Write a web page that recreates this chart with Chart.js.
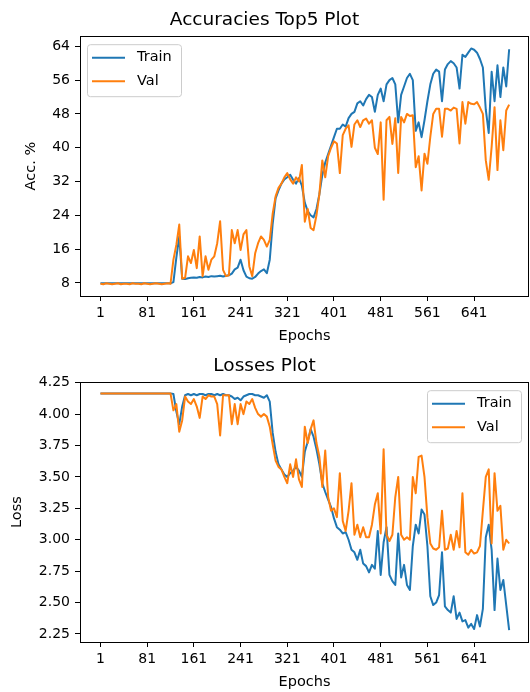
<!DOCTYPE html>
<html>
<head>
<meta charset="utf-8">
<script src="https://cdn.jsdelivr.net/npm/chart.js@4.4.0/dist/chart.umd.min.js"></script>
<style>
  html, body { margin: 0; padding: 0; background: #fff; overflow: hidden; }
  .panel { position: absolute; left: 0; width: 530px; height: 346px; }
  #accPanel { top: 0; }
  #lossPanel { top: 346px; }
</style>
</head>
<body>
<div class="panel" id="accPanel"><canvas id="accChart"></canvas></div>
<div class="panel" id="lossPanel"><canvas id="lossChart"></canvas></div>
<script>
// -------------------- Data (one value every 5 epochs) --------------------
const epochs = [];
for (let e = 1; e <= 701; e += 5) epochs.push(e);

const xTicks = [1, 81, 161, 241, 321, 401, 481, 561, 641];
const accTicks = [8, 16, 24, 32, 40, 48, 56, 64];
const lossTicks = [2.25, 2.5, 2.75, 3.0, 3.25, 3.5, 3.75, 4.0, 4.25];

const trainAcc = [
  7.9, 7.9, 7.9, 7.9, 7.9, 7.9, 7.9, 7.9, 7.9, 7.9,
  7.9, 7.9, 7.9, 7.9, 7.9, 7.9, 7.9, 7.9, 7.9, 7.9,
  7.9, 7.9, 7.9, 7.9, 7.9, 8.2, 14, 19, 9, 8.9,
  9.1, 9.2, 9.3, 9.2, 9.4, 9.3, 9.5, 9.4, 9.6, 9.5,
  9.6, 9.7, 9.5, 9.7, 9.8, 10.2, 11.2, 11.6, 13.5, 11.0,
  9.5, 9.1, 9.0, 9.4, 10.2, 10.8, 11.2, 10.3, 13.5, 22.0,
  28.0, 29.9, 31.5, 32.5, 33.0, 33.6, 32.4, 31.5, 32.8, 31.0,
  27, 25, 24, 23.5, 25.5, 29, 33.5, 36.5, 38.5, 40.5,
  42.5, 44.5, 44.5, 45.5, 45, 47, 48, 48.5, 50.5, 51,
  50, 51.5, 52.5, 52, 48.5, 52.5, 54, 51, 55, 56,
  56.5, 55, 46, 52.5, 54.5, 56.5, 57.5, 56, 44, 46,
  42.5, 46.5, 51, 55, 57.5, 58.5, 58, 51, 58.5, 59.8,
  60.5, 60, 59, 54, 62, 61.5, 62.5, 63.5, 63.2, 62.5,
  61, 59, 49, 43.5, 58, 51, 59.5, 52, 59, 54.5,
  63.3
];

const valAcc = [
  7.8, 7.7, 7.9, 7.8, 7.7, 7.8, 7.9, 7.7, 7.8, 7.8,
  7.7, 7.9, 7.8, 7.8, 7.7, 7.9, 7.8, 7.7, 7.8, 7.9,
  7.8, 7.7, 7.8, 7.9, 7.8, 13.5, 17, 21.8, 9.0, 9.2,
  14.3, 12.7, 15.8, 11.5, 19.0, 9.6, 14.3, 11.1, 13.5, 14.3,
  17.4, 22.6, 11.1, 9.6, 9.8, 20.5, 17.4, 20.5, 15.8, 19.5,
  20.5, 11.9, 9.6, 15, 17.4, 19, 18.2, 16.6, 18.2, 24.4,
  28.5, 30.5, 31.5, 33, 34, 32.5, 31.5, 33, 32, 35.9,
  22.5, 25.5, 21, 20.5, 24, 29, 37, 33, 38, 40,
  41.5, 41, 34, 43, 44.5, 45.3, 40.2, 45.5, 46.5, 44.9,
  46.5, 46.9, 45.7, 46.5, 40, 38.5, 46, 27.7, 46.5, 47.3,
  40.9, 47, 34, 47.3, 46, 48, 47.5, 47.7, 35.4, 38,
  29.9, 38.6, 36.2, 42.6, 48, 49.2, 49.2, 42.6, 49.2, 49.2,
  48.8, 49.5, 49.2, 41, 50.8, 45.7, 50.8, 50.4, 50.3, 50.8,
  49.5, 48, 37, 32.4, 40.2, 49.6, 34.7, 46.5, 39.4, 48.8,
  50.2
];

const trainLoss = [
  4.165, 4.165, 4.165, 4.165, 4.165, 4.165, 4.165, 4.165, 4.165, 4.165,
  4.165, 4.165, 4.165, 4.165, 4.165, 4.165, 4.165, 4.165, 4.165, 4.165,
  4.165, 4.165, 4.165, 4.165, 4.165, 4.16, 4.02, 3.92, 4.06, 4.15,
  4.16, 4.15, 4.16, 4.15, 4.16, 4.16, 4.15, 4.16, 4.16, 4.15,
  4.16, 4.15, 4.16, 4.15, 4.15, 4.14, 4.12, 4.13, 4.11, 4.14,
  4.15, 4.16, 4.16, 4.15, 4.15, 4.14, 4.13, 4.15, 4.10, 3.85,
  3.70, 3.60, 3.56, 3.52, 3.50, 3.53, 3.55, 3.58, 3.55, 3.50,
  3.70, 3.78, 3.88, 3.82, 3.72, 3.60, 3.45, 3.38, 3.32, 3.26,
  3.17, 3.10, 3.08, 3.05, 3.06, 3.00, 2.92, 2.90, 2.84, 2.92,
  2.81, 2.79, 2.74, 2.80, 2.77, 3.07, 2.72, 2.98, 3.10, 2.72,
  2.67, 2.64, 3.05, 2.70, 2.80, 2.64, 2.60, 2.95, 3.12, 3.05,
  3.24, 3.20, 2.95, 2.55, 2.48, 2.50, 2.56, 2.90, 2.47, 2.44,
  2.42, 2.55, 2.37, 2.42, 2.35, 2.36, 2.30, 2.33, 2.29, 2.40,
  2.31, 2.45, 3.02, 3.12, 2.92, 2.44, 2.85, 2.60, 2.68, 2.48,
  2.28
];

const valLoss = [
  4.165, 4.165, 4.165, 4.165, 4.165, 4.165, 4.165, 4.165, 4.165, 4.165,
  4.165, 4.165, 4.165, 4.165, 4.165, 4.165, 4.165, 4.165, 4.165, 4.165,
  4.165, 4.165, 4.165, 4.165, 4.165, 4.03, 4.08, 3.86, 3.95, 4.14,
  4.10, 4.08, 4.12, 4.06, 3.97, 4.14, 4.12, 4.15, 4.14, 4.14,
  4.08, 3.83, 4.15, 4.15, 4.15, 3.92, 4.08, 3.92, 4.08, 4.00,
  4.10, 4.08, 4.12, 4.05, 4.00, 3.98, 4.00, 3.98, 3.90, 3.76,
  3.63, 3.58, 3.56, 3.50, 3.45, 3.60, 3.50, 3.64, 3.48, 3.42,
  3.90, 3.77, 3.88, 3.95, 3.77, 3.66, 3.42, 3.71, 3.34, 3.23,
  3.25, 3.18, 3.53, 3.15, 3.07, 3.23, 3.45, 3.04, 3.12, 3.02,
  3.10, 3.02, 3.02, 3.12, 3.28, 3.37, 3.05, 3.72, 3.04, 2.99,
  3.04, 3.34, 3.50, 3.04, 3.00, 3.02, 3.00, 3.50, 3.37, 3.66,
  3.67, 3.50, 3.18, 2.97, 2.93, 2.92, 2.94, 3.23, 2.92, 2.93,
  3.04, 2.92, 3.07, 2.94, 3.37, 2.90, 2.88, 2.92, 2.89, 2.90,
  2.95, 3.23, 3.50, 3.56, 2.97, 3.53, 3.23, 3.27, 2.92, 3.00,
  2.97
];

const BLUE = "#1f77b4";
const ORANGE = "#ff7f0e";
const FONT = "'DejaVu Sans', sans-serif";


// -------------------- Frame (all four spines) --------------------
const frame = {
  id: "frame",
  afterDatasetsDraw(chart) {
    const { ctx, chartArea: a } = chart;
    ctx.save();
    ctx.strokeStyle = "#000";
    ctx.lineWidth = 1;
    ctx.strokeRect(Math.round(a.left) + 0.5, Math.round(a.top) + 0.5,
      Math.round(a.right - a.left) - 1, Math.round(a.bottom - a.top));
    ctx.restore();
  }
};


// -------------------- Matplotlib-like legend box --------------------
const boxLegend = {
  id: "boxLegend",
  afterDraw(chart, args, opts) {
    const { ctx, chartArea: a } = chart;
    const w = 94, h = 52;
    const x = opts.side === "right" ? a.right - 8 - w : a.left + 7;
    const y = a.top + 8;
    ctx.save();
    ctx.fillStyle = "rgba(255,255,255,0.8)";
    ctx.strokeStyle = "#cccccc";
    ctx.lineWidth = 1;
    ctx.beginPath();
    ctx.roundRect(x + 0.5, y + 0.5, w, h, 3);
    ctx.fill();
    ctx.stroke();
    ctx.font = "14.5px " + FONT;
    ctx.textBaseline = "middle";
    chart.data.datasets.forEach((ds, i) => {
      const ry = y + 13.5 + i * 23.5;
      ctx.strokeStyle = ds.borderColor;
      ctx.lineWidth = 2;
      ctx.beginPath();
      ctx.moveTo(x + 5, ry);
      ctx.lineTo(x + 38, ry);
      ctx.stroke();
      ctx.fillStyle = "#000";
      ctx.fillText(ds.label, x + 50, ry);
    });
    ctx.restore();
  }
};


// -------------------- Build one panel --------------------
function makeChart(id, title, yLabel, train, val, yMin, yMax, yTicks, fmt, side, yTitlePad) {
  const ctx = document.getElementById(id).getContext("2d");
  return new Chart(ctx, {
    type: "line",
    data: {
      datasets: [
        { label: "Train", data: epochs.map((e, i) => ({ x: e, y: train[i] })),
          borderColor: BLUE, borderWidth: 2, pointRadius: 0, tension: 0, order: 1,
          borderJoinStyle: "round" },
        { label: "Val", data: epochs.map((e, i) => ({ x: e, y: val[i] })),
          borderColor: ORANGE, borderWidth: 2, pointRadius: 0, tension: 0, order: 0,
          borderJoinStyle: "round" }
      ]
    },
    options: {
      responsive: true,
      maintainAspectRatio: false,
      animation: false,
      layout: { padding: { left: 0, right: 1, top: 0, bottom: 0 } },
      plugins: {
        legend: { display: false },
        tooltip: { enabled: false },
        title: {
          display: true,
          text: title,
          color: "#000",
          font: { family: FONT, size: 18.5, weight: "normal" },
          padding: { top: 9, bottom: 5 }
        },
        boxLegend: { side: side }
      },
      scales: {
        x: {
          type: "linear",
          min: -34,
          max: 735,
          afterBuildTicks: (s) => { s.ticks = xTicks.map(v => ({ value: v })); },
          afterFit: (s) => { s.height = 50; },
          ticks: {
            color: "#000", font: { family: FONT, size: 14 }, padding: 4,
            maxRotation: 0, autoSkip: false, callback: (v) => v
          },
          grid: { drawOnChartArea: false, tickLength: 5, color: "#000", tickColor: "#000" },
          border: { display: false },
          title: {
            display: true, text: "Epochs", color: "#000",
            font: { family: FONT, size: 14.5 }, padding: { top: 0, bottom: 1 }
          }
        },
        y: {
          type: "linear",
          min: yMin,
          max: yMax,
          afterBuildTicks: (s) => { s.ticks = yTicks.map(v => ({ value: v })); },
          afterFit: (s) => { s.width = 80; },
          ticks: {
            color: "#000", font: { family: FONT, size: 14 }, padding: 5,
            autoSkip: false, callback: fmt
          },
          grid: { drawOnChartArea: false, tickLength: 5, color: "#000", tickColor: "#000" },
          border: { display: false },
          title: {
            display: true, text: yLabel, color: "#000",
            font: { family: FONT, size: 14.5 }, padding: { top: yTitlePad, bottom: 0 }
          }
        }
      }
    },
    plugins: [frame, boxLegend]
  });
}


// -------------------- Initial Load --------------------
makeChart("accChart", "Accuracies Top5 Plot", "Acc. %", trainAcc, valAcc,
  4.9, 66.4, accTicks, (v) => String(v), "left", 23);

makeChart("lossChart", "Losses Plot", "Loss", trainLoss, valLoss,
  2.186, 4.254, lossTicks, (v) => v.toFixed(2), "right", 9);
</script>
</body>
</html>
